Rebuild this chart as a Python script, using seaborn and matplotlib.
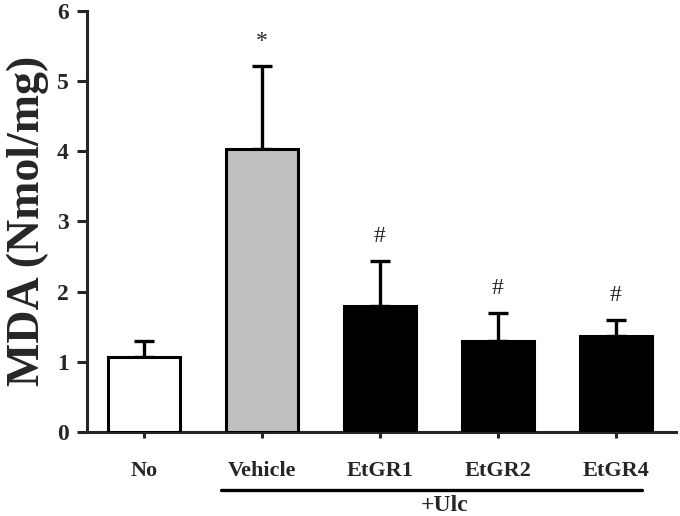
import matplotlib
matplotlib.use("Agg")
import matplotlib.pyplot as plt
import seaborn as sns
import pandas as pd

categories = ["No", "Vehicle", "EtGR1", "EtGR2", "EtGR4"]
means = [1.07, 4.03, 1.79, 1.30, 1.36]
errors = [0.22, 1.18, 0.64, 0.40, 0.23]
marks = ["", "*", "#", "#", "#"]
bar_colors = ["#FFFFFF", "#C0C0C0", "#000000", "#000000", "#000000"]
group_label = "+Ulc"
y_label = "MDA (Nmol/mg)"
y_ticks = [0, 1, 2, 3, 4, 5, 6]

sns.set_style("ticks")
plt.rcParams["font.family"] = ["Liberation Serif", "DejaVu Serif"]

df = pd.DataFrame({"group": categories, "value": means})

fig = plt.figure(figsize=(6.8, 5.16), dpi=100)
ax = fig.add_axes([0.128, 0.163, 0.866, 0.816])

sns.barplot(data=df, x="group", y="value", hue="group", palette=bar_colors,
            legend=False, width=0.61, edgecolor="black", linewidth=2.2,
            errorbar=None, ax=ax, zorder=3)

xs = list(range(len(categories)))
ax.errorbar(xs, means, yerr=[[0] * len(means), errors], fmt="none",
            ecolor="black", elinewidth=2.4, capsize=7, capthick=2.4, zorder=2)

for x, m, e, s in zip(xs, means, errors, marks):
    if s:
        ax.text(x, m + e + 0.2, s, ha="center", va="bottom", fontsize=17)

ax.set_ylim(0, 6)
ax.set_xlim(-0.483, 4.51)
ax.set_yticks(y_ticks)
ax.set_yticklabels([str(t) for t in y_ticks], fontsize=17, fontweight="bold")
ax.set_xticks(xs)
ax.set_xticklabels(categories, fontsize=16, fontweight="bold")
ax.set_xlabel("")
ax.set_ylabel(y_label, fontsize=33, fontweight="bold", labelpad=6)

for side in ["top", "right"]:
    ax.spines[side].set_visible(False)
for side in ["left", "bottom"]:
    ax.spines[side].set_linewidth(2.2)
ax.tick_params(axis="y", width=2.2, length=7, pad=6)
ax.tick_params(axis="x", width=2.2, length=4, pad=17)

# group underline and label
trans = ax.get_xaxis_transform()
line = plt.Line2D([0.65, 4.22], [-0.138, -0.138], transform=trans,
                  color="black", linewidth=2.4, clip_on=False)
ax.add_line(line)
ax.text(2.55, -0.176, group_label, transform=trans, ha="center", va="center",
        fontsize=17, fontweight="bold")

fig.savefig("out.png", dpi=100)
